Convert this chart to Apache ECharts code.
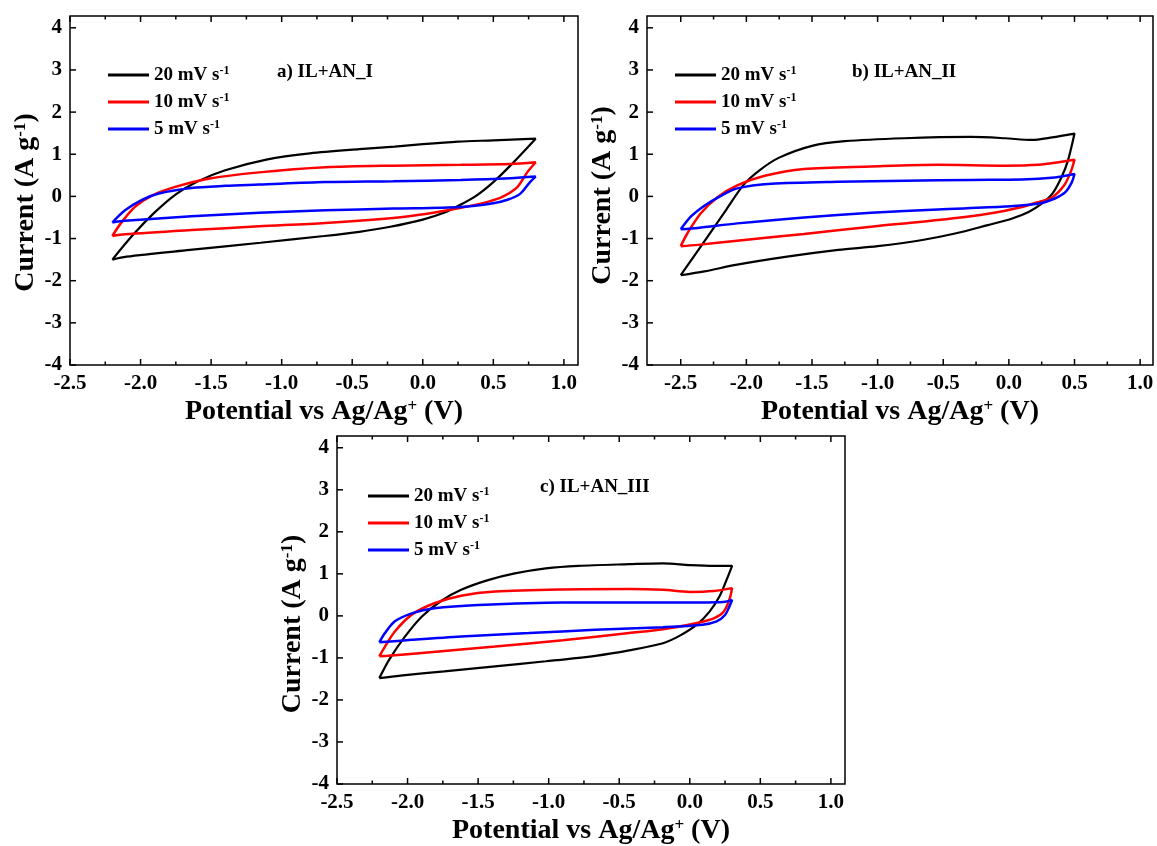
<!DOCTYPE html>
<html><head><meta charset="utf-8">
<script src="https://cdn.jsdelivr.net/npm/echarts@6/dist/echarts.min.js"></script>
<style>html,body{margin:0;padding:0;background:#fff}#c{width:1157px;height:846px}</style>
</head><body><div id="c"></div>
<script>
// ---- tick values & labels ----
const xMajorTicks = [-2.5, -2.0, -1.5, -1.0, -0.5, 0.0, 0.5, 1.0];
const xMinorTicks = [-2.25, -1.75, -1.25, -0.75, -0.25, 0.25, 0.75];
const yMajorTicks = [-4, -3, -2, -1, 0, 1, 2, 3, 4];
const seriesNames = ['20 mV s|-1', '10 mV s|-1', '5 mV s|-1'];
const panelTitles = ['a) IL+AN_I', 'b) IL+AN_II', 'c) IL+AN_III'];

// ---- panel a: IL+AN_I (potential V, current A/g), loop: anodic sweep then cathodic sweep ----
const aPot20 = [-2.2,-2.05,-1.9,-1.75,-1.6,-1.4,-1.1,-0.8,-0.45,-0.2,0.0,0.25,0.5,0.8, 0.62,0.5,0.38,0.26,0.15,0.0,-0.23,-0.45,-0.7,-1.15,-1.65,-2.1,-2.2];
const aCur20 = [-1.5,-0.9,-0.38,0.05,0.35,0.62,0.88,1.02,1.12,1.18,1.24,1.3,1.33,1.37, 0.73,0.34,0.02,-0.21,-0.39,-0.55,-0.72,-0.84,-0.94,-1.1,-1.27,-1.43,-1.5];
const aPot10 = [-2.2,-2.14,-2.04,-1.92,-1.76,-1.52,-1.16,-0.69,-0.21,0.27,0.62,0.8, 0.74,0.67,0.57,0.46,0.27,0.03,-0.21,-0.69,-1.16,-1.64,-2.11,-2.2];
const aCur10 = [-0.94,-0.64,-0.25,0.02,0.22,0.42,0.57,0.69,0.73,0.75,0.77,0.81, 0.57,0.22,0.0,-0.13,-0.27,-0.41,-0.51,-0.63,-0.71,-0.8,-0.9,-0.94];
const aPot5 = [-2.2,-2.11,-1.99,-1.87,-1.64,-1.4,-1.16,-0.69,-0.21,0.27,0.62,0.8, 0.76,0.69,0.6,0.5,0.27,-0.21,-0.69,-1.16,-1.64,-2.11,-2.2];
const aCur5 = [-0.62,-0.33,-0.08,0.07,0.2,0.25,0.28,0.34,0.36,0.39,0.43,0.47, 0.34,0.06,-0.08,-0.16,-0.25,-0.29,-0.33,-0.39,-0.47,-0.58,-0.62];

// ---- panel b: IL+AN_II ----
const bPot20 = [-2.5,-2.3,-2.15,-2.02,-1.9,-1.75,-1.5,-1.25,-0.8,-0.29,-0.03,0.17,0.33,0.5, 0.45,0.4,0.33,0.25,0.15,0.02,-0.16,-0.41,-0.67,-1.0,-1.3,-1.69,-2.07,-2.32,-2.5];
const bCur20 = [-1.87,-0.98,-0.3,0.28,0.62,0.92,1.2,1.31,1.38,1.41,1.38,1.34,1.4,1.49, 0.85,0.45,0.06,-0.17,-0.37,-0.53,-0.68,-0.88,-1.04,-1.18,-1.27,-1.43,-1.62,-1.78,-1.87];
const bPot10 = [-2.5,-2.45,-2.35,-2.22,-2.07,-1.86,-1.56,-1.05,-0.54,-0.03,0.23,0.38,0.5, 0.47,0.42,0.33,0.23,0.1,-0.16,-0.54,-1.05,-1.56,-2.07,-2.37,-2.5];
const bCur10 = [-1.18,-0.88,-0.41,-0.02,0.26,0.49,0.65,0.71,0.75,0.73,0.75,0.81,0.87, 0.57,0.26,-0.02,-0.13,-0.25,-0.41,-0.56,-0.72,-0.89,-1.05,-1.15,-1.18];
const bPot5 = [-2.5,-2.42,-2.32,-2.19,-2.07,-1.81,-1.3,-0.79,-0.29,0.1,0.35,0.5, 0.48,0.43,0.35,0.23,-0.03,-0.54,-1.05,-1.56,-2.07,-2.37,-2.5];
const bCur5 = [-0.78,-0.47,-0.22,0.02,0.19,0.3,0.35,0.37,0.39,0.4,0.45,0.53, 0.34,0.1,-0.05,-0.17,-0.24,-0.31,-0.39,-0.5,-0.64,-0.75,-0.78];

// ---- panel c: IL+AN_III ----
const cPot20 = [-2.2,-2.13,-2.02,-1.9,-1.76,-1.62,-1.43,-1.24,-1.02,-0.79,-0.43,-0.19,0.0,0.17,0.3, 0.26,0.21,0.14,0.05,-0.07,-0.19,-0.43,-0.67,-1.02,-1.38,-1.74,-2.05,-2.2];
const cCur20 = [-1.48,-1.04,-0.5,-0.02,0.36,0.62,0.85,1.01,1.13,1.19,1.23,1.25,1.21,1.19,1.19, 0.85,0.46,0.10,-0.21,-0.47,-0.65,-0.82,-0.95,-1.08,-1.2,-1.32,-1.42,-1.48];
const cPot10 = [-2.2,-2.16,-2.09,-1.97,-1.81,-1.62,-1.38,-0.9,-0.43,-0.19,0.0,0.17,0.3, 0.28,0.24,0.17,0.05,-0.19,-0.43,-0.9,-1.38,-1.86,-2.14,-2.2];
const cCur10 = [-0.96,-0.73,-0.37,0.03,0.3,0.48,0.58,0.63,0.64,0.62,0.57,0.59,0.66, 0.38,0.1,-0.06,-0.17,-0.32,-0.41,-0.58,-0.73,-0.87,-0.95,-0.96];
const cPot5 = [-2.2,-2.16,-2.09,-1.97,-1.81,-1.5,-0.9,-0.43,0.05,0.24,0.3, 0.28,0.25,0.19,0.09,-0.19,-0.67,-1.14,-1.62,-1.97,-2.2];
const cCur5 = [-0.63,-0.41,-0.13,0.06,0.18,0.26,0.32,0.32,0.32,0.33,0.38, 0.22,0.02,-0.13,-0.21,-0.27,-0.33,-0.41,-0.49,-0.57,-0.63];

const FONT = '"Liberation Serif", "Times New Roman", serif';
const colors = ['#000000', '#ff0000', '#0000ff'];
const widths = [2.2, 2.5, 2.5];
const Y_MIN = -4, Y_MAX = 4.28;

const panels = [
  {left: 70, top: 16, width: 508, height: 349, xMin: -2.5, xMax: 1.1, titlePos: [277, 63], legendPos: [108, 65], yShift: 24,
   pots: [aPot20, aPot10, aPot5], curs: [aCur20, aCur10, aCur5]},
  {left: 647, top: 16, width: 506, height: 349, xMin: -2.757, xMax: 1.098, titlePos: [852, 63], legendPos: [675, 65], yShift: 10,
   pots: [bPot20, bPot10, bPot5], curs: [bCur20, bCur10, bCur5]},
  {left: 337, top: 436, width: 508, height: 349, xMin: -2.5, xMax: 1.1, titlePos: [540, 478], legendPos: [368, 486], yShift: 28,
   pots: [cPot20, cPot10, cPot5], curs: [cCur20, cCur10, cCur5]}
];

const nameRich = {
  t: {fontFamily: FONT, fontWeight: 'bold', fontSize: 28, color: '#000'},
  s: {fontFamily: FONT, fontWeight: 'bold', fontSize: 17, color: '#000', verticalAlign: 'top'}
};
const legRich = {
  t: {fontFamily: FONT, fontWeight: 'bold', fontSize: 19, color: '#000'},
  s: {fontFamily: FONT, fontWeight: 'bold', fontSize: 12, color: '#000', verticalAlign: 'top'}
};
const tickLabelStyle = () => ({fontFamily: FONT, fontWeight: 'bold', fontSize: 21, color: '#000'});
const xName = '{t|Potential vs Ag/Ag}{s|+}{t| (V)}';
const yName = '{t|Current (A g}{s|-1}{t|)}';

// tick marks drawn as tiny rect symbols placed through the axis scales
function tickSeries(g, data, size, offset) {
  return {type: 'scatter', name: 'tick', xAxisIndex: g, yAxisIndex: g, data: data,
    symbol: 'rect', symbolSize: size, symbolOffset: offset, clip: false, silent: true,
    itemStyle: {color: '#000', opacity: 1}, z: 5, animation: false, legendHoverLink: false, tooltip: {show: false}};
}

const grid = [], xAxis = [], yAxis = [], series = [], title = [], legend = [];
panels.forEach((p, g) => {
  grid.push({left: p.left, top: p.top, width: p.width, height: p.height, show: true,
    borderColor: '#000', borderWidth: 1.5, backgroundColor: 'transparent'});
  xAxis.push({gridIndex: g, type: 'value', min: p.xMin, max: p.xMax, position: 'bottom',
    axisLine: {show: false, onZero: false}, splitLine: {show: false}, axisTick: {show: false},
    axisLabel: Object.assign({customValues: xMajorTicks, formatter: v => Number(v).toFixed(1), margin: 8}, tickLabelStyle()),
    name: xName, nameLocation: 'middle', nameGap: 33, nameTextStyle: {rich: nameRich}});
  yAxis.push({gridIndex: g, type: 'value', min: Y_MIN, max: Y_MAX, position: 'left',
    axisLine: {show: false, onZero: false}, splitLine: {show: false}, axisTick: {show: false},
    axisLabel: Object.assign({customValues: yMajorTicks, margin: 8}, tickLabelStyle()),
    name: yName, nameLocation: 'middle', nameGap: 30,
    nameTextStyle: {rich: nameRich, padding: [0, p.yShift, 0, 0]}});
  title.push({text: panelTitles[g], left: p.titlePos[0], top: p.titlePos[1], padding: 0,
    textStyle: {fontFamily: FONT, fontWeight: 'bold', fontSize: 19, color: '#000'}});
  legend.push({data: seriesNames, left: p.legendPos[0], top: p.legendPos[1], orient: 'vertical',
    icon: 'rect', itemWidth: 41, itemHeight: 3, itemGap: 7, padding: 0, selectedMode: false,
    formatter: n => '{t|' + n.split('|')[0] + '}{s|' + n.split('|')[1] + '}',
    textStyle: {rich: legRich, lineHeight: 20}});
  seriesNames.forEach((nm, k) => {
    series.push({name: nm, type: 'line', xAxisIndex: g, yAxisIndex: g,
      data: p.pots[k].map((x, i) => [x, p.curs[k][i]]),
      showSymbol: false, symbol: 'none', smooth: 0.3, animation: false,
      lineStyle: {color: colors[k], width: widths[k]}, itemStyle: {color: colors[k]}});
  });
  // bottom / top major & minor ticks (inward), left major ticks (inward)
  series.push(tickSeries(g, xMajorTicks.map(v => [v, Y_MIN]), [1.5, 6], [0, -3]));
  series.push(tickSeries(g, xMinorTicks.map(v => [v, Y_MIN]), [1.5, 3.5], [0, -1.75]));
  series.push(tickSeries(g, xMajorTicks.map(v => [v, Y_MAX]), [1.5, 6], [0, 3]));
  series.push(tickSeries(g, xMinorTicks.map(v => [v, Y_MAX]), [1.5, 3.5], [0, 1.75]));
  series.push(tickSeries(g, yMajorTicks.map(v => [p.xMin, v]), [6, 1.5], [3, 0]));
});

const chart = echarts.init(document.getElementById('c'), null, {renderer: 'canvas'});
chart.setOption({animation: false, backgroundColor: '#fff', tooltip: {show: false}, grid, xAxis, yAxis, series, title, legend});
</script>
</body></html>
